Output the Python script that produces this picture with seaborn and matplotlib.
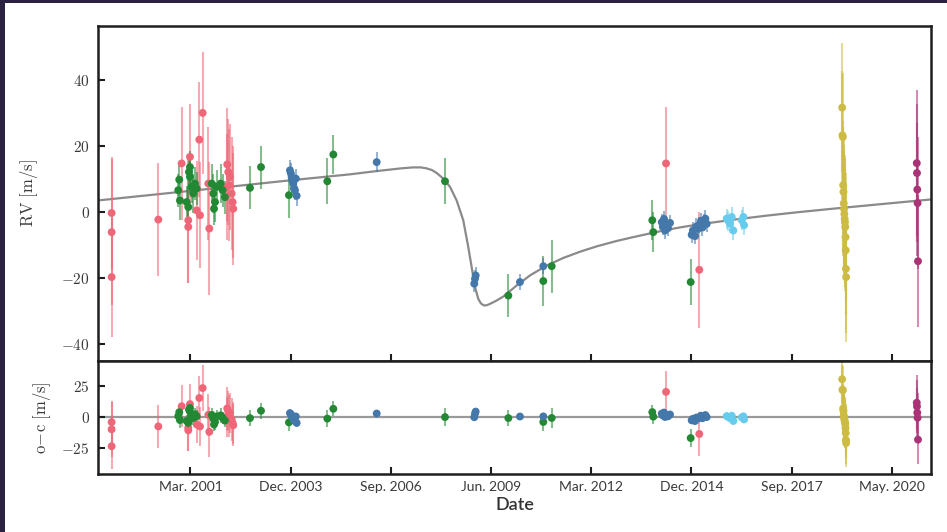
import numpy as np
import pandas as pd
import matplotlib
matplotlib.use("Agg")
import matplotlib.pyplot as plt
from matplotlib.patches import Rectangle
from matplotlib.ticker import FuncFormatter
import seaborn as sns

# Times are BJD - 2450000 (days); RV values in m/s
red_t = [1213, 1213, 1213, 1679, 1912, 1978, 1978, 1995, 2062, 2088, 2095, 2122,
         2178, 2188, 2361, 2367, 2377, 2387, 2394, 2411, 2421, 2427, 6747, 7079]
red_rv = [-0.2, -6.0, -19.6, -2.2, 14.8, -2.4, -4.4, 16.8, 0.6, 22.0, -0.9, 30.1,
          8.7, -4.9, 7.7, 14.5, 12.2, 8.2, 10.7, 5.7, 3.1, 1.1, 14.8, -17.4]
red_err = [17, 22, 18, 17, 17, 19, 17, 16, 15, 17.5, 16, 18.5,
           17, 20, 16, 17, 16, 17, 16, 17, 17, 17, 17, 17.5]

green_t = [1878, 1888, 1895, 1962, 1978, 1985, 1995, 1995, 2012, 2028, 2045, 2062,
           2212, 2228, 2235, 2245, 2262, 2301, 2321, 2344, 2594, 2704, 2983, 3366,
           3426, 4541, 5173, 5522, 5606, 6610, 6620, 6993]
green_rv = [6.7, 9.9, 3.6, 3.1, 1.6, 12.2, 13.7, 10.7, 7.7, 5.7, 8.7, 7.2,
            8.7, 5.7, 1.1, 3.1, 7.7, 8.7, 6.7, 4.6, 7.4, 13.7, 5.2, 9.4,
            17.5, 9.4, -25.2, -20.8, -16.3, -2.4, -6.0, -21.1]
green_err = [5, 5, 6, 5, 6, 5, 5, 5, 5, 6, 5, 5,
             6, 6, 5, 6, 5, 6, 5, 5, 6.5, 6.5, 7, 7,
             6, 7, 6.5, 7.5, 8, 6, 6, 7]

blue_t = [2993, 3002, 3010, 3018, 3026, 3033, 3043, 3052, 3060, 3859,
          4833, 4840, 4847, 5289, 5522,
          6704, 6715, 6727, 6737, 6750, 6767, 6787,
          7003, 7015, 7036, 7050, 7066, 7080, 7096, 7110, 7126, 7140, 7153]
blue_rv = [12.7, 11.8, 10.7, 9.6, 8.7, 7.2, 6.7, 10.2, 5.0, 15.2,
           -21.6, -20.1, -19.1, -21.1, -16.3,
           -3.0, -4.4, -2.0, -5.5, -3.8, -4.8, -3.2,
           -6.8, -5.5, -7.2, -4.3, -5.0, -3.8, -2.6, -4.6, -3.0, -1.9, -3.5]
blue_err = [3] * 10 + [2.5] * 5 + [2.5] * 18

cyan_t = [7353, 7370, 7386, 7403, 7419, 7503, 7519, 7526]
cyan_rv = [-1.9, -2.6, -3.4, -1.4, -5.5, -2.4, -1.4, -3.9]
cyan_err = [3, 3, 3, 3, 3, 3, 3, 3]

yellow_t = [8505, 8508, 8512, 8515, 8518, 8521, 8524, 8527, 8530, 8533, 8536,
            8539, 8541, 8543, 8545]
yellow_rv = [31.7, 23.3, 22.8, 8.2, 6.2, 2.7, 1.0, -0.5, -2.0, -3.0, -4.4,
             -7.5, -11.5, -17.1, -19.6]
yellow_err = [19.5] * 15

purple_t = [9250, 9252, 9255, 9258, 9262]
purple_rv = [14.9, 11.9, 6.9, 2.8, -14.8]
purple_err = [22, 21, 20, 20, 20]

# Best-fit orbit curve
model_t = [1077, 2000, 3000, 3592, 3862, 4100, 4221, 4300, 4358, 4410, 4458,
           4524, 4591, 4657, 4723, 4773, 4807, 4840, 4873, 4900, 4930, 4960,
           4990, 5050, 5123, 5250, 5389, 5550, 5722, 5900, 6055, 6250, 6420,
           6600, 6754, 6900, 7086, 7400, 7752, 8050, 8414, 8900, 9392]
model_rv = [3.6, 6.5, 9.7, 11.5, 12.5, 13.3, 13.6, 13.6, 13.3, 12.8, 11.9,
            10.2, 7.7, 3.6, -2.4, -10.5, -16.6, -22.6, -26.2, -27.6, -28.2, -28.1,
            -27.7, -26.8, -25.5, -22.3, -19.1, -16.2, -13.8, -11.8, -10.3, -8.7, -7.5,
            -6.3, -5.3, -4.5, -3.6, -2.3, -1.0, 0.0, 1.1, 2.5, 3.9]

tick_days = [2000, 3000, 4000, 5000, 6000, 7000, 8000, 9000]
tick_labels = ["Mar. 2001", "Dec. 2003", "Sep. 2006", "Jun. 2009",
               "Mar. 2012", "Dec. 2014", "Sep. 2017", "May. 2020"]

datasets = [
    ("A", red_t, red_rv, red_err, "#EE6677"),
    ("B", green_t, green_rv, green_err, "#228833"),
    ("C", blue_t, blue_rv, blue_err, "#4477AA"),
    ("D", cyan_t, cyan_rv, cyan_err, "#66CCEE"),
    ("E", yellow_t, yellow_rv, yellow_err, "#CCBB44"),
    ("F", purple_t, purple_rv, purple_err, "#AA3377"),
]

frames = []
for name, t, rv, err, _ in datasets:
    frames.append(pd.DataFrame({"inst": name, "t": t, "rv": rv, "err": err}))
df = pd.concat(frames, ignore_index=True)
df["resid"] = df["rv"] - np.interp(df["t"], model_t, model_rv)
palette = {name: c for name, _, _, _, c in datasets}

sns.set_theme(style="ticks")
plt.rcParams["mathtext.fontset"] = "cm"
plt.rcParams["font.family"] = ["Lato", "DejaVu Sans"]

fig = plt.figure(figsize=(9.47, 5.32), dpi=100, facecolor="#2b2140")
page = Rectangle((5 / 947, 0), 942 / 947, 529 / 532, transform=fig.transFigure,
                 facecolor="white", edgecolor="none", zorder=-10)
fig.add_artist(page)

ax = fig.add_axes([98 / 947, 1 - 361 / 532, 833 / 947, 335 / 532])
axr = fig.add_axes([98 / 947, 1 - 474 / 532, 833 / 947, 113 / 532], sharex=ax)

for a in (ax, axr):
    a.set_facecolor("white")
    for sp in a.spines.values():
        sp.set_visible(True)
        sp.set_linewidth(1.8)
        sp.set_color("#1e1e1e")

# Model curve and zero line
sns.lineplot(x=model_t, y=model_rv, ax=ax, color="#8a8a8a", linewidth=1.6,
             zorder=1.5, sort=False)
axr.axhline(0, color="#9a9a9a", linewidth=1.6, zorder=0.5)

# Error bars
for name, _, _, _, c in datasets:
    sub = df[df["inst"] == name]
    ax.errorbar(sub["t"], sub["rv"], yerr=sub["err"], fmt="none", ecolor=c,
                elinewidth=1.5, alpha=0.55, zorder=2)
    axr.errorbar(sub["t"], sub["resid"], yerr=sub["err"], fmt="none", ecolor=c,
                 elinewidth=1.5, alpha=0.55, zorder=2)

# Points
sns.scatterplot(data=df, x="t", y="rv", hue="inst", palette=palette, s=32,
                linewidth=0, legend=False, ax=ax, zorder=3)
sns.scatterplot(data=df, x="t", y="resid", hue="inst", palette=palette, s=32,
                linewidth=0, legend=False, ax=axr, zorder=3)

ax.set_xlim(1077, 9392)
ax.set_ylim(-45, 56.4)
axr.set_ylim(-46, 45)

fmt = FuncFormatter(lambda v, p: r"$%d$" % v)
ax.set_yticks([-40, -20, 0, 20, 40])
axr.set_yticks([-25, 0, 25])
ax.yaxis.set_major_formatter(fmt)
axr.yaxis.set_major_formatter(fmt)

for a in (ax, axr):
    a.tick_params(axis="both", direction="in", length=5, width=1.5,
                  color="#1e1e1e", labelcolor="#3a3a3a", labelsize=11, pad=6)
    a.tick_params(axis="x", top=False)
    a.tick_params(axis="y", right=False)
    a.minorticks_off()
ax.tick_params(axis="x", labelbottom=False)

axr.set_xticks(tick_days)
axr.set_xticklabels(tick_labels, fontsize=10, color="#3a3a3a")
axr.tick_params(axis="x", pad=5)

ax.set_xlabel("")
ax.set_ylabel(r"$\mathrm{RV\ [m/s]}$", fontsize=12, color="#3a3a3a")
ax.yaxis.set_label_coords(-0.0696, 0.5)
axr.set_ylabel(r"$\mathrm{o\!-\!c\ [m/s]}$", fontsize=12, color="#3a3a3a")
axr.yaxis.set_label_coords(-0.054, 0.5)
axr.set_xlabel("Date", fontsize=13, color="#333333", fontweight="semibold",
               labelpad=3)

fig.savefig("out.png", dpi=100, facecolor=fig.get_facecolor())
